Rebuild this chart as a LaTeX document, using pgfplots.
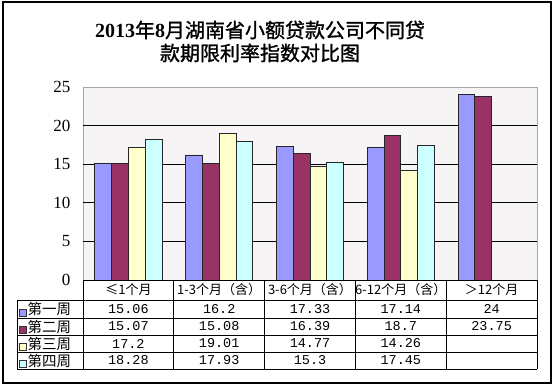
\documentclass[border=0pt]{standalone}
\usepackage{pgfplots}
\pgfplotsset{compat=1.18}
\usepackage{fontspec}
\setmainfont{Liberation Serif}
\newfontfamily\cjk{Noto Sans CJK SC}
\newfontfamily\cjkt{Noto Sans CJK SC}[FakeBold=1.2]
\newfontfamily\mono{Liberation Mono}
\definecolor{cA}{HTML}{9999FF}
\definecolor{cB}{HTML}{993366}
\definecolor{cC}{HTML}{FFFFCC}
\definecolor{cD}{HTML}{CCFFFF}
\definecolor{bgp}{HTML}{F6F4F4}
\begin{document}
\begin{tikzpicture}
\begin{scope}[x=1pt,y=1pt]
\useasboundingbox (0,0) rectangle (554,386);
\fill[white] (0,0) rectangle (554,386);
\draw[line width=1.2pt] (3,3) rectangle (551,384);
\node[align=center, font=\fontsize{20}{23}\selectfont] at (260,344.5)
  {{\bfseries 2013}{\cjkt 年}{\bfseries 8}{\cjkt 月湖南省小额贷款公司不同贷}\\{\cjkt 款期限利率指数对比图}};
\end{scope}
\begin{axis}[
  at={(83pt,106pt)}, anchor=south west,
  scale only axis, width=454pt, height=193pt,
  ybar=0pt, bar width=16.8pt,
  xmin=-0.5, xmax=4.5, ymin=0, ymax=25,
  xtick=\empty,
  ytick={0,5,10,15,20,25},
  extra y ticks={5,10,15,20},
  extra y tick labels={},
  extra y tick style={grid=major, major grid style={black, line width=0.8pt}},
  major tick length=0pt,
  axis line style={gray!70, line width=0.8pt},
  axis background/.style={fill=bgp},
  /pgf/number format/assume math mode=true,
  yticklabel style={font=\fontsize{17}{17}\selectfont, xshift=-9pt},
  every axis plot/.append style={draw=black!85, line width=0.7pt},
]
\addplot[fill=cA] coordinates {(0,15.06) (1,16.2) (2,17.33) (3,17.14) (4,24)};
\addplot[fill=cB] coordinates {(0,15.07) (1,15.08) (2,16.39) (3,18.7) (4,23.75)};
\addplot[fill=cC] coordinates {(0,17.2) (1,19.01) (2,14.77) (3,14.26)};
\addplot[fill=cD] coordinates {(0,18.28) (1,17.93) (2,15.3) (3,17.45)};
\end{axis}
\begin{scope}[x=1pt,y=1pt, line width=1pt]
% horizontal lines
\draw (83,106) -- (537,106);
\foreach \yy in {86,68,51,34,17} \draw (17,\yy) -- (537,\yy);
\draw (17,86) -- (17,17);
\foreach \xx in {83,173.8,264.6,355.4,446.2,537} \draw (\xx,106) -- (\xx,17);
% category labels
\begin{scope}[every node/.style={font=\cjk\fontsize{13}{13}\selectfont, inner sep=0pt}]
\node at (128.4,96) {≤1个月};
\node at (219.2,96) {1-3个月（含）};
\node at (310,96) {3-6个月（含）};
\node at (400.8,96) {6-12个月（含）};
\node at (491.6,96) {＞12个月};
\end{scope}
\begin{scope}[every node/.style={font=\cjk\fontsize{14.5}{14.5}\selectfont, inner sep=0pt, anchor=west}]
\node at (27,77) {第一周};
\node at (27,59.5) {第二周};
\node at (27,42.5) {第三周};
\node at (27,25.5) {第四周};
\end{scope}
% legend keys
\begin{scope}[line width=0.5pt]
\filldraw[fill=cA, draw=black!80] (19,70) rectangle (26,77);
\filldraw[fill=cB, draw=black!80] (19,52.5) rectangle (26,59.5);
\filldraw[fill=cC, draw=black!80] (19,35.5) rectangle (26,42.5);
\filldraw[fill=cD, draw=black!80] (19,18.5) rectangle (26,25.5);
\end{scope}
% values
\begin{scope}[every node/.style={font=\mono\fontsize{13.5}{13.5}\selectfont, inner sep=0pt}]
\node at (128.4,77) {15.06}; \node at (219.2,77) {16.2}; \node at (310,77) {17.33}; \node at (400.8,77) {17.14}; \node at (491.6,77) {24};
\node at (128.4,59.5) {15.07}; \node at (219.2,59.5) {15.08}; \node at (310,59.5) {16.39}; \node at (400.8,59.5) {18.7}; \node at (491.6,59.5) {23.75};
\node at (128.4,42.5) {17.2}; \node at (219.2,42.5) {19.01}; \node at (310,42.5) {14.77}; \node at (400.8,42.5) {14.26};
\node at (128.4,25.5) {18.28}; \node at (219.2,25.5) {17.93}; \node at (310,25.5) {15.3}; \node at (400.8,25.5) {17.45};
\end{scope}
\end{scope}
\end{tikzpicture}
\end{document}
